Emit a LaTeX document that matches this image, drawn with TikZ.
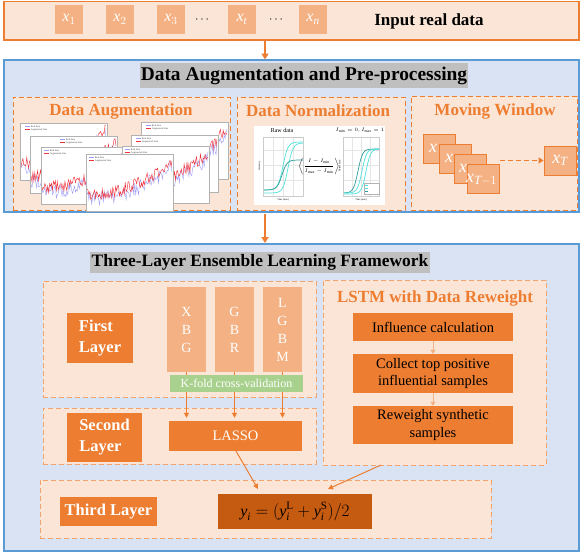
\documentclass[tikz,border=0pt]{standalone}
\usepackage{amsmath}
\usepackage{fontspec}
\setmainfont{Liberation Serif}
\usetikzlibrary{arrows.meta}

\definecolor{peach}{HTML}{FBE5D6}
\definecolor{orA}{HTML}{ED7D31}
\definecolor{orL}{HTML}{F4B183}
\definecolor{orD}{HTML}{C55A11}
\definecolor{blF}{HTML}{DAE3F3}
\definecolor{blB}{HTML}{5B9BD5}
\definecolor{grT}{HTML}{BFBFBF}
\definecolor{grn}{HTML}{A9D18E}
\definecolor{cyA}{HTML}{4FE3DC}
\definecolor{teA}{HTML}{2E9E98}
\definecolor{rdA}{HTML}{F0303A}
\definecolor{buA}{HTML}{9C9CF5}

\newcommand\fs[2]{\fontsize{#1}{#2}\selectfont}
% italic variable letters in the text face
\newcommand\mi[1]{\text{\itshape #1}}
% rectangle node given by its corners: style, name, x1, y1, x2, y2, text
\newcommand\rectnode[7]{\node[#1, inner sep=0pt, minimum width={#5-#3}, minimum height={#6-#4}] (#2) at ({(#3+#5)/2},{(#4+#6)/2}) {#7};}

% one small line chart with real (blue) and augmented (red) series
\newcommand\augchart[4]{%
  \begin{scope}[shift={(#1,#2)}]
    \fill[white] (0,0) rectangle (87,57);
    \begin{scope}
      \clip (0,0) rectangle (87,57);
      \pgfmathsetseed{#3}
      \draw[buA, line width=0.4pt] plot[domain=1:86, samples=90] (\x,{45-34*(\x/87)^2.2+7*rand});
      \draw[rdA, line width=0.45pt] plot[domain=1:86, samples=90] (\x,{40-34*(\x/87)^2.2+6*rand});
    \end{scope}
    \draw[buA, line width=0.5pt] (#4,3.5) -- ++(5,0) node[right, text=black!70, font=\fs{2.5}{3}, inner sep=0.5pt] {Real data};
    \draw[rdA, line width=0.6pt] (#4,6.5) -- ++(5,0) node[right, text=black!70, font=\fs{2.5}{3}, inner sep=0.5pt] {Augmented data};
    \draw[black!30, line width=0.5pt] (0,0) rectangle (87,57);
  \end{scope}}

\tikzset{
  panel/.style={draw=blB, line width=2.2pt, fill=blF},
  dashbox/.style={draw=orA, line width=1pt, dash pattern=on 5pt off 3pt, fill=peach},
  layerbox/.style={draw=orA!70, line width=1pt, dash pattern=on 5pt off 3pt, fill=peach},
  headline/.style={fill=grT, font=\bfseries\fs{17.4}{20}},
  subtitle/.style={text=orA, font=\bfseries\fs{17}{20}},
  cell/.style={fill=orL, text=white, font=\fs{16}{18}},
  tag/.style={fill=orA, text=white, font=\bfseries\fs{16.5}{21}, align=left},
  stage/.style={fill=orA, text=black, font=\fs{14.5}{17.5}, align=center},
  model/.style={fill=orL, text=white, font=\fs{14}{18}, align=center},
  win/.style={fill=orL, draw=orA, line width=0.8pt},
  winlabel/.style={text=white, font=\fs{18}{20}, inner sep=0pt, anchor=west},
  bigarrow/.style={draw=orA, line width=2pt, -{Triangle[length=6pt,width=7pt]}},
  thinarrow/.style={draw=orA, line width=1pt, -{Triangle[length=5pt,width=5pt]}},
  softarrow/.style={draw=orL, line width=1pt, -{Triangle[length=4pt,width=5pt]}},
}

\begin{document}
\begin{tikzpicture}[x=1pt,y=-1pt]
\useasboundingbox (0,0) rectangle (581,554);

% ---------------- input series ----------------
\rectnode{fill=peach, draw=orA, line width=1.2pt}{input}{4}{1.5}{579}{40}{}
\rectnode{cell}{c1}{55}{5}{83}{34}{$\mi{x}_1$}
\rectnode{cell}{c2}{106}{5}{134}{34}{$\mi{x}_2$}
\rectnode{cell}{c3}{157}{5}{185}{34}{$\mi{x}_3$}
\node[font=\fs{12}{14}] (d1) at (203,20) {$\cdots$};
\rectnode{cell}{ct}{228}{5}{256}{34}{$\mi{x}_{\mi{t}}$}
\node[font=\fs{12}{14}] (d2) at (277,20) {$\cdots$};
\rectnode{cell}{cn}{299}{5}{327}{34}{$\mi{x}_{\mi{n}}$}
\node[font=\bfseries\fs{17}{20}] (inlabel) at (429,21) {Input real data};

% ---------------- pre-processing panel ----------------
\rectnode{panel}{pre}{4}{60}{579}{212}{}
\coordinate (a1s) at (265,40.5);
\coordinate (a1e) at (265,59.5);
\draw[bigarrow] (a1s) -- (a1e);
\rectnode{headline, font=\bfseries\fs{19.4}{22}}{pretitle}{140}{63}{468}{88}{Data Augmentation and Pre-processing}

\rectnode{dashbox}{augbox}{13}{97}{230}{210}{}
\rectnode{dashbox}{normbox}{237}{97}{405}{210}{}
\rectnode{dashbox}{mwbox}{411}{96}{577}{210}{}
\node[subtitle] (augtitle) at (121,111) {Data Augmentation};
\node[subtitle] (normtitle) at (318,111) {Data Normalization};
\node[subtitle] (mwtitle) at (495,111) {Moving Window};

% stacked augmentation charts
\augchart{20}{123}{11}{5}
\augchart{30}{136}{12}{30}
\augchart{41}{147}{13}{3}
\augchart{141}{122}{14}{5}
\augchart{131}{135}{15}{5}
\augchart{122}{146}{16}{3}
\augchart{86}{154}{17}{3}

% normalization figure
\fill[white] (254,126) rectangle (385,205);
\node[font=\fs{6}{7}] (rawt) at (282,130.5) {Raw data};
\foreach \g in {150,165,180} \draw[black!10, line width=0.3pt] (263,\g) -- (303,\g);
\foreach \g in {273,283,293} \draw[black!10, line width=0.3pt] (\g,137) -- (\g,196);
\draw[black!20, line width=0.3pt] (263,137) rectangle (303,196);
\draw[cyA, line width=0.7pt] plot[domain=264:303, samples=60] (\x,{190-48/(1+exp(-(\x-283)/2.5))});
\draw[cyA, line width=0.7pt] plot[domain=264:303, samples=60] (\x,{193-50/(1+exp(-(\x-288)/2.5))});
\draw[teA, line width=0.7pt] plot[domain=264:303, samples=60] (\x,{190-30/(1+exp(-(\x-282)/2.5))});
\node[font=\fs{2.5}{3}] at (283,199.5) {Time [min]};
\node[font=\fs{2.5}{3}, rotate=90] at (259.5,166) {Intensity};
\node[font=\fs{5.5}{6}] (normf) at (319,166) {$\displaystyle\left\langle\frac{I-I_{\min}}{I_{\max}-I_{\min}}\right\rangle$};
\node[font=\fs{5.5}{7}] (normt) at (360,130.5) {$I_{\min}=0, I_{\max}=1$};
\foreach \g in {150,165,180} \draw[black!10, line width=0.3pt] (343,\g) -- (379,\g);
\foreach \g in {352,361,370} \draw[black!10, line width=0.3pt] (\g,137) -- (\g,196);
\draw[black!20, line width=0.3pt] (343,137) rectangle (379,196);
\draw[teA, line width=0.7pt] plot[domain=344:379, samples=60] (\x,{193-44/(1+exp(-(\x-358)/2.3))});
\draw[cyA, line width=0.7pt] plot[domain=344:379, samples=60] (\x,{193-44/(1+exp(-(\x-362)/2.3))});
\draw[cyA, line width=0.7pt] plot[domain=344:379, samples=60] (\x,{194-45/(1+exp(-(\x-366)/2.3))});
\node[font=\fs{2.5}{3}] at (361,199.5) {Time [min]};
\node[font=\fs{2.5}{3}, rotate=90] at (339.5,166) {Normalized};
\draw[black!30, fill=white, line width=0.3pt] (364,183) rectangle (379,194);
\draw[cyA, line width=0.5pt] (365,185.5) -- ++(3,0);
\draw[cyA, line width=0.5pt] (365,188.5) -- ++(3,0);
\draw[teA, line width=0.5pt] (365,191.5) -- ++(3,0);

% moving window
\rectnode{win}{w1}{423}{134}{455}{163}{}
\node[winlabel] at (429,148) {\itshape x};
\rectnode{win}{w2}{439}{144}{471}{173}{}
\node[winlabel] at (445,158) {\itshape x};
\rectnode{win}{w3}{454}{154}{486}{183}{}
\node[winlabel] at (459,168) {\itshape x};
\rectnode{win}{w4}{467}{164}{499}{193}{}
\node[winlabel] at (466,180) {$\mi{x}_{\mi{T}-1}$};
\rectnode{win, text=white, font=\fs{18}{20}}{wT}{544}{146}{576}{175}{$\mi{x}_{\mi{T}}$}
\coordinate (dashStart) at (500,160.5);
\draw[orA, line width=1.8pt, dash pattern=on 5pt off 3pt, -{Triangle[length=5pt,width=6pt]}] (dashStart) -- (dashStart -| wT.west);

% ---------------- ensemble panel ----------------
\rectnode{panel}{frame}{4}{244}{579}{551}{}
\coordinate (a2s) at (265,213.5);
\coordinate (a2e) at (265,243);
\draw[bigarrow] (a2s) -- (a2e);
\rectnode{headline}{frametitle}{90}{252}{430}{273}{Three-Layer Ensemble Learning Framework}

% first layer
\rectnode{layerbox}{layer1}{43}{281}{316}{397}{}
\rectnode{tag}{first}{67}{313}{133}{363}{First\\Layer}
\rectnode{model}{xbg}{167}{287}{206}{372}{X\\B\\G}
\rectnode{model}{gbr}{215}{287}{254}{372}{G\\B\\R}
\rectnode{model}{lgbm}{263}{287}{302}{372}{L\\G\\B\\M}

% second layer
\rectnode{layerbox}{layer2}{43}{408}{316}{464}{}
\rectnode{tag}{second}{67}{413}{142}{462}{Second\\Layer}
\rectnode{fill=orA, text=white, font=\fs{14.5}{17}}{lasso}{169}{421}{302}{451}{LASSO}
\draw[thinarrow] (xbg.south) -- ([yshift=3pt]xbg.south |- lasso.north);
\draw[thinarrow] (gbr.south) -- ([yshift=3pt]gbr.south |- lasso.north);
\draw[thinarrow] (lgbm.south) -- ([yshift=3pt]lgbm.south |- lasso.north);
% validation bar lies over the model-to-LASSO arrows
\rectnode{fill=grn, text=white, font=\fs{12}{14}}{kfold}{170}{375}{303}{392}{K-fold cross-validation}

% LSTM branch
\rectnode{layerbox}{lstm}{323}{280}{546}{465}{}
\node[subtitle] (lstmtitle) at (435,298) {LSTM with Data Reweight};
\rectnode{stage}{infl}{353}{313}{513}{341}{Influence calculation}
\rectnode{stage}{collect}{353}{354}{513}{393}{Collect top positive\\influential samples}
\rectnode{stage}{rew}{353}{406}{513}{444}{Reweight synthetic\\samples}
\draw[softarrow] (infl.south) -- (collect.north);
\draw[softarrow] (collect.south) -- (rew.north);

% third layer
\rectnode{layerbox}{layer3}{40}{480}{491}{538}{}
\rectnode{tag}{third}{60}{497}{157}{526}{Third Layer}
\rectnode{fill=orD, text=black, font=\fs{16}{18}}{avg}{218}{494}{372}{529}{$\mi{y}_{\mi{i}} = (\mi{y}_{\mi{i}}^{\mathrm{L}} + \mi{y}_{\mi{i}}^{\mathrm{S}})/2$}
\coordinate (lassoOut) at (236,451);
\coordinate (avgInL) at (258,489);
\coordinate (lstmOut) at (381,465);
\coordinate (avgInR) at (328,489);
\draw[thinarrow] (lassoOut) -- (avgInL);
\draw[thinarrow] (lstmOut) -- (avgInR);
\end{tikzpicture}
\end{document}
